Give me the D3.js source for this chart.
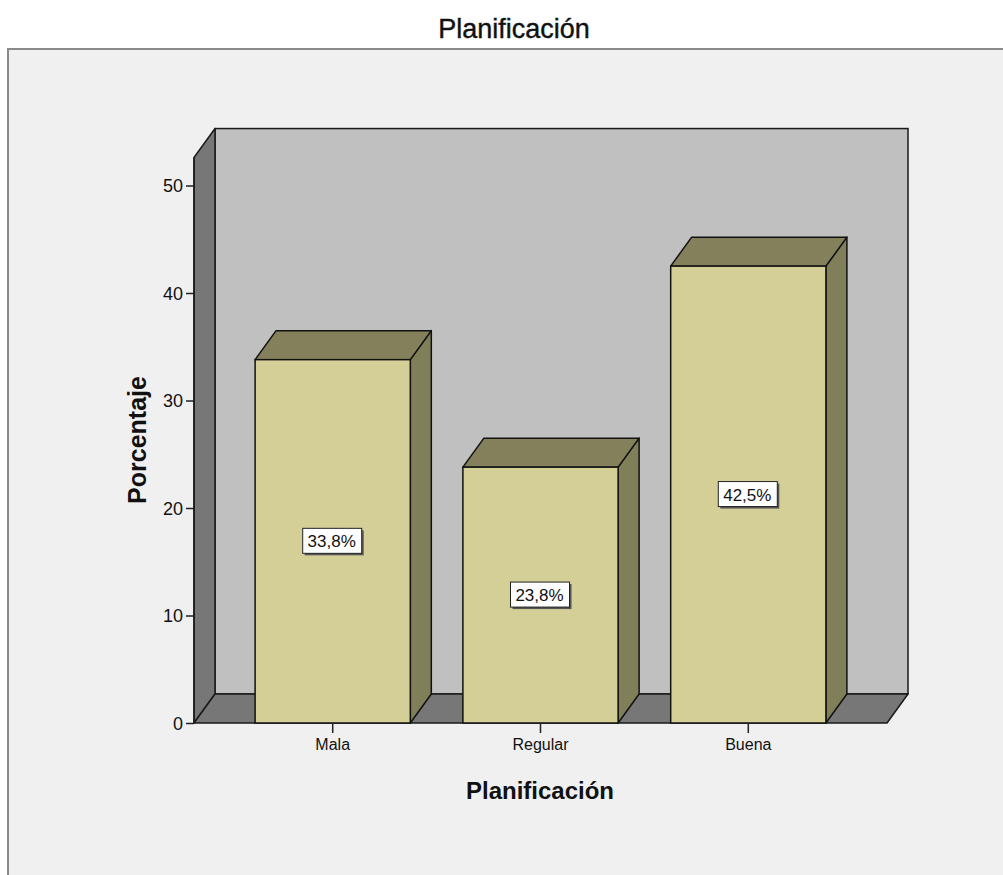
<!DOCTYPE html>
<html>
<head>
<meta charset="utf-8">
<style>
body { margin: 0; background: #fff; }
svg { font-family: "Liberation Sans", Arial, sans-serif; }
.axis text { fill: #111; }
.axis line { stroke: #222; stroke-width: 1.5; }
.axis .domain { display: none; }
</style>
</head>
<body>
<svg width="1003" height="875"></svg>
<script src="https://cdn.jsdelivr.net/npm/d3@7"></script>
<script>

// data
var categories = ["Mala", "Regular", "Buena"];
var percents = [33.8, 23.8, 42.5];
var yTicks = [0, 10, 20, 30, 40, 50];
var chartTitle = "Planificación";
var xTitle = "Planificación";
var yTitle = "Porcentaje";

var svg = d3.select("svg");

// outer frame
svg.append("rect")
  .attr("x", 8).attr("y", 49)
  .attr("width", 1010).attr("height", 840)
  .attr("fill", "#f0f0f0")
  .attr("stroke", "#8a8a8a")
  .attr("stroke-width", 2);

svg.append("text")
  .attr("x", 514).attr("y", 38)
  .attr("text-anchor", "middle")
  .attr("font-size", 27)
  .attr("fill", "#111")
  .attr("stroke", "#111").attr("stroke-width", 0.4)
  .text(chartTitle);

// 3d geometry
var left = 194, right = 887, base = 723;
var dx = 21, dy = -29;
var yMax = 52.6;

var y = d3.scaleLinear().domain([0, 50]).range([base, 185.5]);
var x = d3.scaleBand().domain(categories).range([left, right])
  .paddingInner(0.253).paddingOuter(0.294);

var wallTop = y(yMax);

// back wall
svg.append("rect")
  .attr("x", left + dx).attr("y", wallTop + dy)
  .attr("width", right - left).attr("height", base - wallTop)
  .attr("fill", "#c0c0c0")
  .attr("stroke", "#1a1a1a").attr("stroke-width", 1.5);

// left wall
svg.append("polygon")
  .attr("points", [[left, base], [left, wallTop], [left + dx, wallTop + dy], [left + dx, base + dy]].join(" "))
  .attr("fill", "#777")
  .attr("stroke", "#1a1a1a").attr("stroke-width", 1.5).attr("stroke-linejoin", "round");

// floor
svg.append("polygon")
  .attr("points", [[left, base], [left + dx, base + dy], [right + dx, base + dy], [right, base]].join(" "))
  .attr("fill", "#777")
  .attr("stroke", "#1a1a1a").attr("stroke-width", 1.5).attr("stroke-linejoin", "round");

// bars
var bars = svg.selectAll(".bar")
  .data(categories.map(function(c, i) { return {cat: c, v: percents[i]}; }))
  .enter().append("g").attr("class", "bar");

bars.append("polygon") // side
  .attr("points", function(d) {
    var x1 = x(d.cat) + x.bandwidth(), yt = y(d.v);
    return [[x1, base], [x1, yt], [x1 + dx, yt + dy], [x1 + dx, base + dy]].join(" ");
  })
  .attr("fill", "#817f5a").attr("stroke", "#111").attr("stroke-width", 1.5).attr("stroke-linejoin", "round");

bars.append("polygon") // top
  .attr("points", function(d) {
    var x0 = x(d.cat), x1 = x0 + x.bandwidth(), yt = y(d.v);
    return [[x0, yt], [x0 + dx, yt + dy], [x1 + dx, yt + dy], [x1, yt]].join(" ");
  })
  .attr("fill", "#83805b").attr("stroke", "#111").attr("stroke-width", 1.5).attr("stroke-linejoin", "round");

bars.append("rect") // front
  .attr("x", function(d) { return x(d.cat); })
  .attr("y", function(d) { return y(d.v); })
  .attr("width", x.bandwidth())
  .attr("height", function(d) { return base - y(d.v); })
  .attr("fill", "#d3cf97").attr("stroke", "#111").attr("stroke-width", 1.5);

// value labels
var fmt = d3.formatLocale({decimal: ",", thousands: ".", grouping: [3], currency: ["", "%"]}).format(".1f");

var lab = bars.append("g")
  .attr("transform", function(d) {
    return "translate(" + (x(d.cat) + x.bandwidth() / 2) + "," + ((y(d.v) + base) / 2) + ")";
  });
lab.append("rect")
  .attr("x", -28).attr("y", -11).attr("width", 59).attr("height", 25)
  .attr("fill", "#555");
lab.append("rect")
  .attr("x", -30).attr("y", -13).attr("width", 59).attr("height", 25)
  .attr("fill", "#fff").attr("stroke", "#222").attr("stroke-width", 1);
lab.append("text")
  .attr("text-anchor", "middle").attr("x", -1).attr("y", 6)
  .attr("font-size", 17).attr("fill", "#111")
  .text(function(d) { return fmt(d.v) + "%"; });

// axes
svg.append("g").attr("class", "axis")
  .attr("transform", "translate(" + left + ",0)")
  .call(d3.axisLeft(y).tickValues(yTicks).tickSize(8).tickSizeOuter(0).tickPadding(3))
  .selectAll("text").attr("font-size", 18).attr("dy", "0.36em");

svg.append("line")
  .attr("x1", left).attr("x2", left).attr("y1", wallTop).attr("y2", base)
  .attr("stroke", "#1a1a1a").attr("stroke-width", 1.5);

svg.append("g").attr("class", "axis")
  .attr("transform", "translate(0," + base + ")")
  .call(d3.axisBottom(x).tickSize(10).tickSizeOuter(0).tickPadding(6))
  .selectAll("text").attr("font-size", 16);

svg.append("text")
  .attr("x", 540).attr("y", 799)
  .attr("text-anchor", "middle")
  .attr("font-size", 24).attr("font-weight", "bold").attr("fill", "#111")
  .text(xTitle);

svg.append("text")
  .attr("transform", "translate(146,440) rotate(-90)")
  .attr("text-anchor", "middle")
  .attr("font-size", 25).attr("font-weight", "bold").attr("fill", "#111")
  .text(yTitle);

</script>
</body>
</html>
